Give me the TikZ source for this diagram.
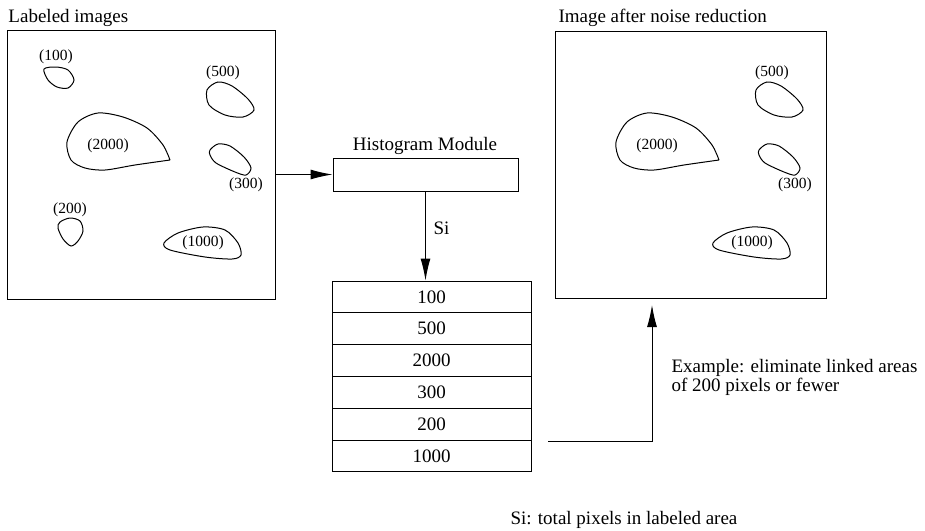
\documentclass[tikz,border=0pt]{standalone}
\usepackage{fontspec}
\setmainfont{Liberation Serif}
\usetikzlibrary{arrows.meta}
\tikzset{
  frame/.style={draw, line width=1pt, inner sep=0pt},
  blob/.style={line width=1pt},
  tag/.style={font=\fontsize{15.5}{17}\selectfont, inner sep=0pt},
  txt/.style={font=\fontsize{19}{19}\selectfont, inner sep=0pt, anchor=base west},
  cell/.style={frame, minimum width=199pt, minimum height=31.8pt, font=\fontsize{19}{19}\selectfont},
}
% areas kept after noise reduction, #1 = name prefix
\newcommand{\bigblobs}[1]{%
  \draw[blob] plot[smooth] coordinates {(170,160) (163,145) (147,128) (123,117) (98,113) (78,122) (67,142) (71,160) (85,168) (105,170) (135,165) (170,160)};
  \node[tag] (#1a2000) at (108,146) {(2000)};
  \draw[blob] plot[smooth cycle] coordinates {(207,90) (218,82) (232,86) (248,99) (254,110) (243,117) (225,115) (209,105)};
  \node[tag] (#1a500) at (223,73) {(500)};
  \draw[blob] plot[smooth cycle] coordinates {(210,150) (218,144) (230,146) (244,157) (251,168) (246,175) (235,172) (216,163) (210,155)};
  \node[tag] (#1a300) at (246,185) {(300)};
  \draw[blob] plot[smooth cycle] coordinates {(164,243) (178,233) (203,227) (225,230) (238,243) (241,255) (232,259) (205,257) (170,250)};
  \node[tag] (#1a1000) at (203,243) {(1000)};
}
\begin{document}
\begin{tikzpicture}[x=1pt, y=-1pt, >={Latex[length=22pt,width=10pt]}, line width=1pt]
\useasboundingbox (0,0) rectangle (925,530);

% labeled image
\node[txt] (ltitle) at (8,22) {Labeled images};
\node[frame, minimum width=268pt, minimum height=269pt] (labeled) at (141,164.5) {};
\bigblobs{l}
\draw[blob] plot[smooth cycle] coordinates {(44,69) (56,67) (68,70) (74,80) (68,88) (57,87) (48,80)};
\node[tag] (la100) at (56,57) {(100)};
\draw[blob] plot[smooth cycle] coordinates {(60,222) (70,218) (80,221) (83,231) (78,241) (71,246) (63,239) (58,228)};
\node[tag] (la200) at (70,210) {(200)};

% histogram
\node[frame, minimum width=185pt, minimum height=33pt] (module) at (425.5,174.5) {};
\node[txt, anchor=base] (mtitle) at (425,150) {Histogram Module};
\draw[->] (labeled.east |- module) -- (module);
\foreach \v [count=\i] in {100,500,2000,300,200,1000}
  \node[cell] (row\i) at (431.5,{281+31.8*\i-15.9}) {\v};
\draw[->] (module.south) -- (module.south |- row1.north);
\node[txt] (si) at (433,234) {Si};

% result
\node[txt] (rtitle) at (558,22) {Image after noise reduction};
\node[frame, minimum width=271pt, minimum height=267pt] (result) at (690.5,164.5) {};
\begin{scope}[shift={(549,0)}]
\bigblobs{r}
\end{scope}
\coordinate (from) at (548,441);
\coordinate (tip) at (652,305);
\draw[->] (from) -| (tip);
\node[txt, anchor=north west, align=left] (rule) at (671,359) {Example: eliminate linked areas\\of 200 pixels or fewer};
\node[txt] (note) at (510,524) {Si: total pixels in labeled area};
\end{tikzpicture}
\end{document}
